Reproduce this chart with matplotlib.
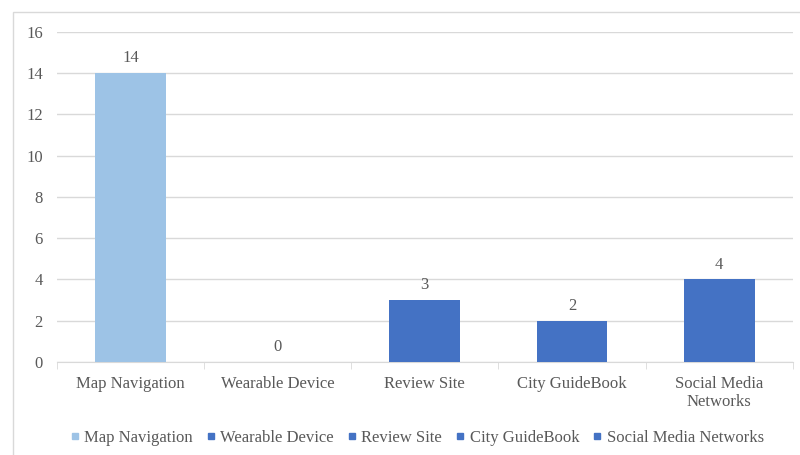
import matplotlib.pyplot as plt
from matplotlib.lines import Line2D
from matplotlib.patches import Rectangle

categories = ["Map Navigation", "Wearable Device", "Review Site", "City GuideBook", "Social Media\nNetworks"]
legend_labels = ["Map Navigation", "Wearable Device", "Review Site", "City GuideBook", "Social Media Networks"]
values = [14, 0, 3, 2, 4]
colors = ["#9DC3E6", "#4472C4", "#4472C4", "#4472C4", "#4472C4"]

plt.rcParams["font.family"] = ["Liberation Serif", "DejaVu Serif"]
text_color = "#595959"
grid_color = "#D9D9D9"
fs = 12

fig = plt.figure(figsize=(8, 4.55), dpi=100)
ax = fig.add_axes([0.071, 0.2044, 0.92, 0.7253])

x = range(len(categories))
bars = ax.bar(x, values, width=0.48, color=colors, zorder=3)

for b, v in zip(bars, values):
    ax.annotate(str(v), (b.get_x() + b.get_width() / 2, v), xytext=(0, 5),
                textcoords="offset points", ha="center", va="bottom",
                fontsize=fs, color=text_color)

ax.set_xlim(-0.5, len(categories) - 0.5)
ax.set_ylim(0, 16)
ax.set_yticks(range(0, 17, 2))
ax.grid(axis="y", color=grid_color, linewidth=1, zorder=0)

for s in ["top", "right", "left"]:
    ax.spines[s].set_visible(False)
ax.spines["bottom"].set_color(grid_color)

ax.set_xticks(list(x))
ax.set_xticklabels(categories, fontsize=fs, color=text_color, linespacing=1.2)
ax.tick_params(axis="x", length=0, pad=10)
ax.tick_params(axis="y", length=0, labelsize=fs, labelcolor=text_color, pad=10)

# small tick marks between categories
ax.set_xticks([i + 0.5 for i in range(-1, len(categories))], minor=True)
ax.tick_params(axis="x", which="minor", length=5, color=grid_color)

handles = [Line2D([], [], marker="s", linestyle="none", markersize=5,
                  markerfacecolor=c, markeredgecolor=c) for c in colors]
fig.legend(handles, legend_labels, loc="center", bbox_to_anchor=(0.521, 0.038),
           ncol=5, frameon=False, fontsize=fs, labelcolor=text_color,
           handlelength=0.6, handletextpad=0.25, columnspacing=0.8)

# outer chart border
fig.patches.append(Rectangle((13 / 800, -0.01), 1.0, 1 - 12 / 455 + 0.01,
                             transform=fig.transFigure, fill=False,
                             edgecolor=grid_color, linewidth=1))

fig.savefig("out.png", dpi=100)
